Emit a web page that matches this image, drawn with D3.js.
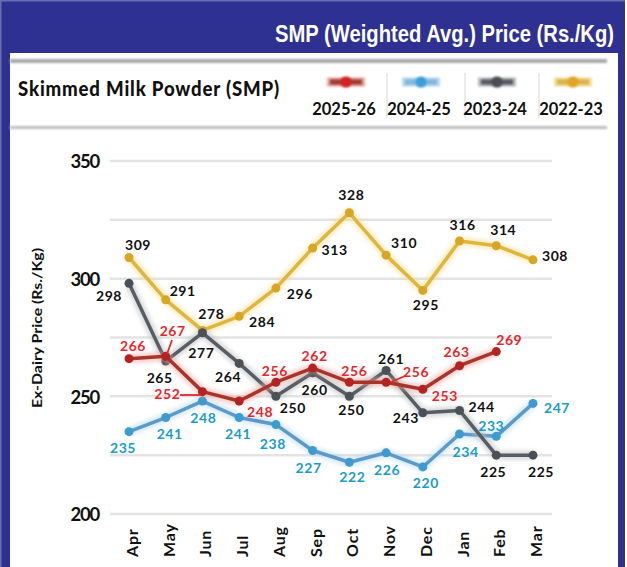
<!DOCTYPE html>
<html><head><meta charset="utf-8">
<script src="https://cdn.jsdelivr.net/npm/d3@7/dist/d3.min.js"></script>
<style>
html,body{margin:0;padding:0;background:#fff;}
svg{display:block;}
text{font-family:Lato,"Open Sans",sans-serif;font-weight:700;}
</style></head>
<body>
<script>
const months = ["Apr","May","Jun","Jul","Aug","Sep","Oct","Nov","Dec","Jan","Feb","Mar"];
const seriesNames = ["2025-26","2024-25","2023-24","2022-23"];
const v2025 = [266,267,252,248,256,262,256,256,253,263,269,null];
const v2024 = [235,241,248,241,238,227,222,226,220,234,233,247];
const v2023 = [298,265,277,264,250,260,250,261,243,244,225,225];
const v2022 = [309,291,278,284,296,313,328,310,295,316,314,308];
const yTicks = [200,250,300,350];
const gridTicks = [200,225,250,275,300,325,350];

// label placement offsets (dx, dy) relative to each point
const off2025 = [[4,-13],[7,-25],[-35,2],[21,11],[-1,-11],[2,-12],[5,-11],[30,-10],[22,7],[-3,-14],[13,-12],null];
const off2024 = [[-6,16],[4,16],[1,17],[-1,16],[-3,19],[-4,17],[3,15],[1,17],[3,16],[6,18],[-5,-10],[24,5]];
const off2023 = [[-20,13],[-6,17],[-1,20],[-11,14],[17,12],[2,17],[2,14],[5,-11],[-17,5],[22,-3],[-3,17],[8,17]];
const off2022 = [[9,-13],[17,-9],[9,-16],[23,6],[24,6],[22,2],[2,-18],[18,-12],[3,15],[3,-16],[7,-16],[22,-4]];

const styles = [
  {line:"#a9342c", marker:"#b52222", halo:"#e8a59c", text:"#e8252b", leg:"#d42222", legLine:"#9a3a30"},
  {line:"#5c9bc9", marker:"#3d9bd0", halo:"#b5d8ee", text:"#1a9cc9", leg:"#3a9fd6", legLine:"#7fb6dc"},
  {line:"#585d64", marker:"#4c5157", halo:"#b7babd", text:"#111", leg:"#4a4e55", legLine:"#55595f"},
  {line:"#dfb63a", marker:"#d8a624", halo:"#f3dd95", text:"#111", leg:"#e3a426", legLine:"#d9b04a"}
];
const data = [v2025, v2024, v2023, v2022];
const offs = [off2025, off2024, off2023, off2022];

const W = 627, H = 567;
const svg = d3.select("body").append("svg").attr("width", W).attr("height", H);
const defs = svg.append("defs");
defs.append("filter").attr("id","blur").attr("filterUnits","userSpaceOnUse")
  .attr("x",-800).attr("y",-800).attr("width",2400).attr("height",2400)
  .append("feGaussianBlur").attr("stdDeviation", 2.2);
defs.append("filter").attr("id","blur2").attr("filterUnits","userSpaceOnUse")
  .attr("x",-800).attr("y",-800).attr("width",2400).attr("height",2400)
  .append("feGaussianBlur").attr("stdDeviation", 1.1);

// frame
const navy = "#2f3192";
svg.append("rect").attr("width", W).attr("height", H).attr("fill", navy);
svg.append("rect").attr("x",0).attr("y",0).attr("width",W).attr("height",1.5).attr("fill","#6a6cb0");
svg.append("rect").attr("x",0).attr("y",0).attr("width",1.5).attr("height",H).attr("fill","#6a6cb0");
svg.append("rect").attr("x",10).attr("y",53).attr("width",608).attr("height",H-53).attr("fill","#fff");
svg.append("rect").attr("x",625).attr("y",0).attr("width",2).attr("height",H).attr("fill","#fff");

svg.append("g").attr("transform","translate(614,42) scale(0.86,1)")
  .append("text").attr("x",0).attr("y",0).attr("text-anchor","end")
  .attr("fill","#fff").style("font-family",'"Liberation Sans","Arial",sans-serif')
  .style("font-size","23.5px").style("font-weight","700")
  .text("SMP (Weighted Avg.) Price (Rs./Kg)");

// legend box lines
svg.append("rect").attr("x",10).attr("y",59).attr("width",597).attr("height",4).attr("fill","#a8a8a8").attr("filter","url(#blur2)");
svg.append("rect").attr("x",10).attr("y",126).attr("width",597).attr("height",3).attr("fill","#bdbdbd").attr("filter","url(#blur2)");

svg.append("text").attr("x",18).attr("y",96).attr("fill","#111")
  .style("font-size","20px").style("font-weight","900").style("letter-spacing","0.9px")
  .attr("textLength",262).attr("lengthAdjust","spacingAndGlyphs")
  .text("Skimmed Milk Powder (SMP)");

const legX = [346, 421, 497, 573];
const sepX = [387, 465, 539];
sepX.forEach(x => svg.append("line").attr("x1",x).attr("x2",x).attr("y1",73).attr("y2",118)
  .attr("stroke","#e4e4e4").attr("stroke-width",1.5));
seriesNames.forEach((n,i) => {
  const g = svg.append("g").attr("transform",`translate(${legX[i]},82)`);
  g.append("rect").attr("x",-19).attr("y",-4.5).attr("width",38).attr("height",9).attr("fill",styles[i].halo).attr("filter","url(#blur2)");
  g.append("rect").attr("x",-16).attr("y",-2.5).attr("width",32).attr("height",5).attr("fill",styles[i].legLine).attr("filter","url(#blur2)");
  g.append("circle").attr("r",5.5).attr("fill",styles[i].leg).attr("filter","url(#blur2)");
  svg.append("text").attr("x",legX[i]-2).attr("y",115).attr("text-anchor","middle").attr("fill","#111")
    .style("font-size","16.5px").text(n);
});

// scales
const x = d3.scalePoint().domain(months).range([129, 533]);
const y = d3.scaleLinear().domain([200, 350]).range([514, 161]);

// grid
svg.append("g").selectAll("line").data(gridTicks).join("line")
  .attr("x1",110).attr("x2",552).attr("y1",d=>y(d)).attr("y2",d=>y(d))
  .attr("stroke","#e3e3e3").attr("stroke-width",2.5);

// y axis
const yAxis = d3.axisLeft(y).tickValues(yTicks).tickSize(0).tickPadding(0);
const ya = svg.append("g").attr("transform","translate(99,0)").call(yAxis);
ya.select(".domain").remove();
ya.selectAll("text").attr("fill","#111").attr("dy","0.36em")
  .style("font-size","18.5px").style("letter-spacing","-1.2px").style("font-family","Lato,sans-serif").style("font-weight","700");

svg.append("text").attr("transform","translate(42,328) rotate(-90)").attr("text-anchor","middle")
  .attr("fill","#111").style("font-size","14px").attr("textLength",160).attr("lengthAdjust","spacingAndGlyphs")
  .text("Ex-Dairy Price (Rs./Kg)");

// x axis
const xAxis = d3.axisBottom(x).tickSize(0).tickPadding(0);
const xa = svg.append("g").call(xAxis);
xa.select(".domain").remove();
xa.selectAll(".tick").attr("transform", d => `translate(${x(d)+9},557)`);
xa.selectAll("text").attr("transform","rotate(-90)").attr("x",0).attr("y",0).attr("dy",0)
  .attr("text-anchor","start").attr("fill","#111")
  .style("font-size","16px").style("letter-spacing","0.8px").style("font-family","Lato,sans-serif").style("font-weight","700");

// lines
const line = d3.line().defined(d => d.v != null).x(d => x(d.m)).y(d => y(d.v));
const order = [3,1,2,0];
order.forEach(i => {
  const pts = months.map((m,k) => ({m, v: data[i][k]}));
  const g = svg.append("g");
  g.append("path").datum(pts).attr("d", line).attr("fill","none")
    .attr("stroke", styles[i].halo).attr("stroke-width",9).attr("opacity",0.55).attr("filter","url(#blur)");
  g.append("path").datum(pts).attr("d", line).attr("fill","none")
    .attr("stroke", styles[i].line).attr("stroke-width",3.5).attr("stroke-linejoin","round");
  g.selectAll("circle").data(pts.filter(d => d.v != null)).join("circle")
    .attr("cx", d => x(d.m)).attr("cy", d => y(d.v)).attr("r",4.5).attr("fill", styles[i].marker);
});

// leader lines
const leaders = [[172,340,167,354],[180,395,201,395],[405,376,391,382]];
leaders.forEach(l => svg.append("line").attr("x1",l[0]).attr("y1",l[1]).attr("x2",l[2]).attr("y2",l[3])
  .attr("stroke","#e8252b").attr("stroke-width",1.8));

// labels
[0,1,2,3].forEach(i => {
  months.forEach((m,k) => {
    const v = data[i][k];
    if (v == null) return;
    const o = offs[i][k];
    svg.append("text").attr("x", x(m)+o[0]).attr("y", y(v)+o[1]).attr("dy","0.36em")
      .attr("text-anchor","middle").attr("fill", styles[i].text)
      .style("font-size","14px").style("letter-spacing","0.6px").text(v);
  });
});
</script>
</body></html>
